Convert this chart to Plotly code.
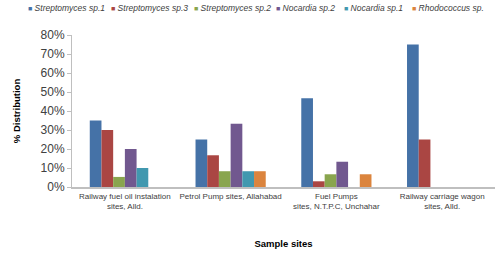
import plotly.graph_objects as go

categories = ["Railway fuel oil instalation<br>sites, Alld.",
              "Petrol Pump sites, Allahabad",
              "Fuel Pumps<br>sites, N.T.P.C, Unchahar",
              "Railway carriage wagon<br>sites, Alld."]
series_names = ["Streptomyces sp.1", "Streptomyces sp.3", "Streptomyces sp.2",
                "Nocardia sp.2", "Nocardia sp.1", "Rhodococcus sp."]
strep1 = [35, 25, 46.7, 75]
strep3 = [30, 16.7, 3, 25]
strep2 = [5.3, 8.3, 6.7, 0]
noc2 = [20, 33.3, 13.3, 0]
noc1 = [10, 8.3, 0, 0]
rhodo = [0, 8.3, 6.7, 0]
values = [strep1, strep3, strep2, noc2, noc1, rhodo]
colors = ["#4572A7", "#AA4643", "#89A54E", "#71588F", "#4198AF", "#DB843D"]
ytick_vals = [0, 10, 20, 30, 40, 50, 60, 70, 80]
ytick_text = ["0%", "10%", "20%", "30%", "40%", "50%", "60%", "70%", "80%"]

W, H = 500, 257
ML, MR, MT, MB = 72, 5, 35, 70
PW = W - ML - MR
PH = H - MT - MB

fig = go.Figure()
for name, vals, c in zip(series_names, values, colors):
    fig.add_trace(go.Bar(x=categories, y=vals, name=name,
                         marker=dict(color=c, line=dict(width=0))))

# legend drawn as a single row of annotations (Excel-style compact legend)
legend_px = [26, 109, 192, 274, 342, 410]
for name, c, px in zip(series_names, colors, legend_px):
    fig.add_annotation(
        x=(px - ML) / PW, y=1 + (MT - 8) / PH, xref="paper", yref="paper",
        xanchor="left", yanchor="middle", showarrow=False,
        text=f"<span style='color:{c};font-size:7px'>■</span> <i>{name}</i>",
        font=dict(size=8.5, color="#404040"))

fig.update_layout(
    width=W, height=H,
    margin=dict(l=ML, r=MR, t=MT, b=MB, autoexpand=False),
    paper_bgcolor="white", plot_bgcolor="white",
    barmode="group", bargap=0.336, bargroupgap=0,
    font=dict(family="Liberation Sans, Arial, sans-serif", color="#404040"),
    showlegend=False,
)
fig.update_yaxes(range=[0, 80], tickvals=ytick_vals, ticktext=ytick_text,
                 showgrid=False, showline=True, linecolor="#BFBFBF", linewidth=1,
                 ticks="outside", ticklen=4, tickcolor="#BFBFBF",
                 tickfont=dict(size=12, color="#404040"),
                 title=dict(text="<b>% Distribution</b>", font=dict(size=9.5, color="#000000"),
                            standoff=18),
                 zeroline=False)
fig.update_xaxes(showgrid=False, showline=True, linecolor="#BFBFBF", linewidth=2,
                 ticks="", tickfont=dict(size=8, color="#404040"),
                 title=dict(text="<b>Sample sites</b>", font=dict(size=9.5, color="#000000"),
                            standoff=30),
                 tickangle=0)

fig.write_html("out.html", config={"displayModeBar": False},
               post_script="document.body.style.margin='0';document.body.style.overflow='hidden';")
